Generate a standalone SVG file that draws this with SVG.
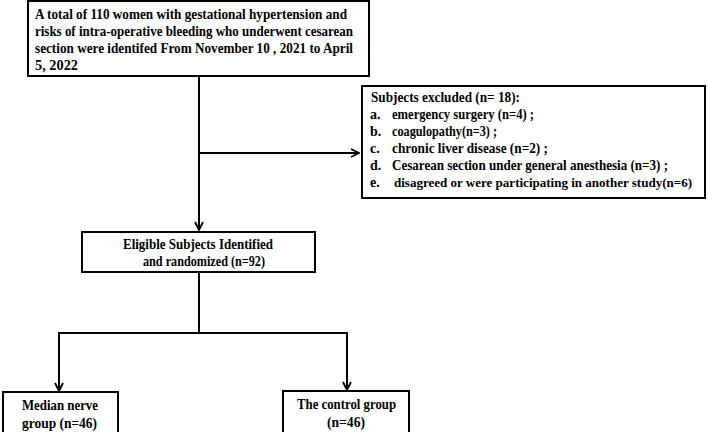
<svg xmlns="http://www.w3.org/2000/svg" width="708" height="432" viewBox="0 0 708 432">
<defs>
<marker id="arr" viewBox="0 0 10 10" refX="9" refY="5" markerWidth="10" markerHeight="10" markerUnits="userSpaceOnUse" orient="auto">
<path d="M1,1 L9,5 L1,9" fill="none" stroke="#000" stroke-width="1.8"/>
</marker>
<style>
.box{fill:#fff;stroke:#000;stroke-width:2}
.t{font-family:"Liberation Serif","Times New Roman",serif;font-weight:bold;font-size:14px;fill:#000}
.s{font-size:13px}
.ln{fill:none;stroke:#000;stroke-width:2}
</style>
</defs>
<rect width="708" height="432" fill="#fff"/>
<g id="connectors">
<line class="ln" x1="199" y1="76" x2="199" y2="230" marker-end="url(#arr)"/>
<line class="ln" x1="199" y1="153" x2="359" y2="153" marker-end="url(#arr)"/>
<line class="ln" x1="199" y1="272" x2="199" y2="333"/>
<polyline class="ln" points="59,360 59,333 347,333 347,360"/>
<line class="ln" x1="59" y1="358" x2="59" y2="391" marker-end="url(#arr)"/>
<line class="ln" x1="347" y1="358" x2="347" y2="390" marker-end="url(#arr)"/>
</g>
<g id="n_total">
<rect class="box" x="28" y="1" width="341" height="75"/>
<text class="t" x="35" y="19" textLength="312" lengthAdjust="spacingAndGlyphs">A total of 110 women with gestational hypertension and</text>
<text class="t" x="35" y="36" textLength="318" lengthAdjust="spacingAndGlyphs">risks of intra-operative bleeding who underwent cesarean</text>
<text class="t" x="35" y="53" textLength="318" lengthAdjust="spacingAndGlyphs">section were identifed From November 10 , 2021 to April</text>
<text class="t" x="35" y="70" textLength="43" lengthAdjust="spacingAndGlyphs">5, 2022</text>
</g>
<g id="n_excluded">
<rect class="box" x="362" y="86" width="343" height="112"/>
<text class="t" x="371" y="102" textLength="149" lengthAdjust="spacingAndGlyphs">Subjects excluded (n= 18):</text>
<text class="t" x="370" y="119">a.</text><text class="t" x="392" y="119" textLength="142" lengthAdjust="spacingAndGlyphs">emergency surgery (n=4) ;</text>
<text class="t" x="370" y="136">b.</text><text class="t" x="392" y="136" textLength="105" lengthAdjust="spacingAndGlyphs">coagulopathy(n=3) ;</text>
<text class="t" x="370" y="153">c.</text><text class="t" x="392" y="153" textLength="156" lengthAdjust="spacingAndGlyphs">chronic liver disease (n=2) ;</text>
<text class="t" x="370" y="170">d.</text><text class="t" x="392" y="170" textLength="276" lengthAdjust="spacingAndGlyphs">Cesarean section under general anesthesia (n=3) ;</text>
<text class="t" x="370" y="187">e.</text><text class="t s" x="394" y="187" textLength="298" lengthAdjust="spacingAndGlyphs">disagreed or were participating in another study(n=6)</text>
</g>
<g id="n_eligible">
<rect class="box" x="82" y="232" width="233" height="40"/>
<text class="t" x="123" y="249" textLength="150" lengthAdjust="spacingAndGlyphs">Eligible Subjects Identified</text>
<text class="t" x="143" y="266" textLength="122" lengthAdjust="spacingAndGlyphs">and randomized (n=92)</text>
</g>
<g id="n_median">
<rect class="box" x="3" y="392" width="115" height="44"/>
<text class="t" x="22" y="410" textLength="76" lengthAdjust="spacingAndGlyphs">Median nerve</text>
<text class="t" x="22" y="428" textLength="75" lengthAdjust="spacingAndGlyphs">group (n=46)</text>
</g>
<g id="n_control">
<rect class="box" x="283" y="391" width="126" height="45"/>
<text class="t" x="297" y="409" textLength="99" lengthAdjust="spacingAndGlyphs">The control group</text>
<text class="t" x="327" y="427" textLength="38" lengthAdjust="spacingAndGlyphs">(n=46)</text>
</g>
</svg>
